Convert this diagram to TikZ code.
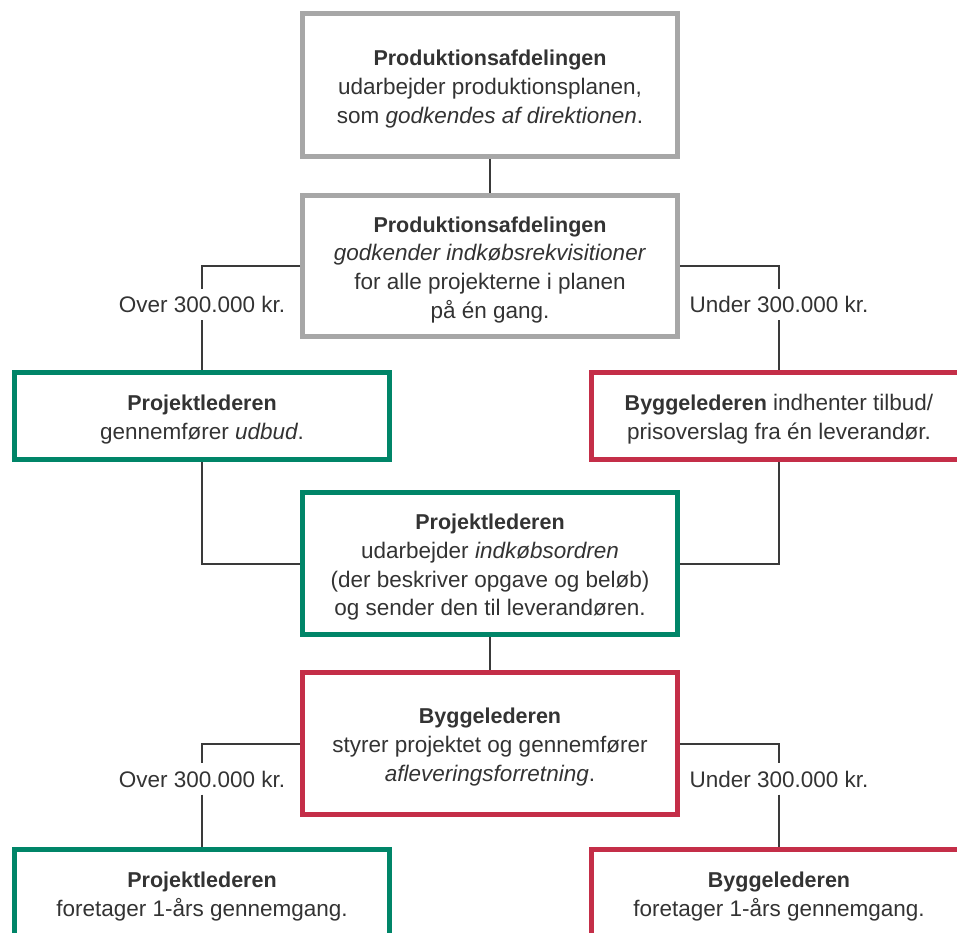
\documentclass[tikz,border=0pt]{standalone}
\usepackage{fontspec}
\setmainfont{Liberation Sans}
\definecolor{boxgray}{RGB}{167,167,167}
\definecolor{boxgreen}{RGB}{0,133,104}
\definecolor{boxred}{RGB}{196,46,72}
\definecolor{txt}{RGB}{51,51,51}
\definecolor{conn}{RGB}{58,58,58}
\newcommand{\boxtext}[1]{\raisebox{-3.5pt}[\height][\depth]{\begin{tabular}{@{}c@{}}#1\end{tabular}}}
\newcommand{\hd}[1]{{\fontsize{21.5}{28.8}\selectfont\bfseries #1}}
\tikzset{
  box/.style={draw, line width=5pt, fill=white, inner sep=0pt,
    minimum width=375pt, text=txt, font=\fontsize{22.5}{28.8}\selectfont},
  graybox/.style={box, draw=boxgray},
  greenbox/.style={box, draw=boxgreen},
  redbox/.style={box, draw=boxred},
  lbl/.style={inner sep=0pt, minimum height=31pt, text height=16pt, text depth=0pt,
    text=txt, font=\fontsize{22.5}{28.8}\selectfont},
  conn/.style={draw=conn, line width=2pt}
}
\begin{document}
\begin{tikzpicture}[x=1pt, y=-1pt]
\useasboundingbox (0,0) rectangle (957,932);
\clip (0,0) rectangle (957,932);
\fill[white] (0,0) rectangle (957,932);

\node[graybox, minimum height=143pt] (b1) at (490,85)
  {\boxtext{\hd{Produktionsafdelingen}\\udarbejder produktionsplanen,\\som \textit{godkendes af direktionen}.}};
\node[graybox, minimum height=141pt] (b2) at (490,266)
  {\boxtext{\hd{Produktionsafdelingen}\\\textit{godkender indkøbsrekvisitioner}\\for alle projekterne i planen\\på én gang.}};
\node[greenbox, minimum height=87pt] (b3) at (202,416)
  {\boxtext{\hd{Projektlederen}\\gennemfører \textit{udbud}.}};
\node[redbox, minimum height=87pt] (b4) at (779,416)
  {\boxtext{\hd{Byggelederen} indhenter tilbud/\\prisoverslag fra én leverandør.}};
\node[greenbox, minimum height=142pt] (b5) at (490,563.5)
  {\boxtext{\hd{Projektlederen}\\udarbejder \textit{indkøbsordren}\\(der beskriver opgave og beløb)\\og sender den til leverandøren.}};
\node[redbox, minimum height=142pt] (b6) at (490,743.5)
  {\boxtext{\hd{Byggelederen}\\styrer projektet og gennemfører\\\textit{afleveringsforretning}.}};
\node[greenbox, minimum height=87pt] (b7) at (202,893)
  {\boxtext{\hd{Projektlederen}\\foretager 1-års gennemgang.}};
\node[redbox, minimum height=87pt] (b8) at (779,893)
  {\boxtext{\hd{Byggelederen}\\foretager 1-års gennemgang.}};

\node[lbl] (l1) at (202,304.5) {Over 300.000 kr.};
\node[lbl] (l2) at (779,304.5) {Under 300.000 kr.};
\node[lbl] (l3) at (202,779) {Over 300.000 kr.};
\node[lbl] (l4) at (779,779) {Under 300.000 kr.};

\draw[conn] (b1.south) -- (b2.north);
\draw[conn] (b2.west) -| (l1.north);
\draw[conn] (l1.south) -- (l1.south |- b3.north);
\draw[conn] (b2.east) -| (l2.north);
\draw[conn] (l2.south) -- (l2.south |- b4.north);
\draw[conn] (b3.south) |- (b5.west);
\draw[conn] (b4.south) |- (b5.east);
\draw[conn] (b5.south) -- (b6.north);
\draw[conn] (b6.west) -| (l3.north);
\draw[conn] (l3.south) -- (l3.south |- b7.north);
\draw[conn] (b6.east) -| (l4.north);
\draw[conn] (l4.south) -- (l4.south |- b8.north);
\end{tikzpicture}
\end{document}
